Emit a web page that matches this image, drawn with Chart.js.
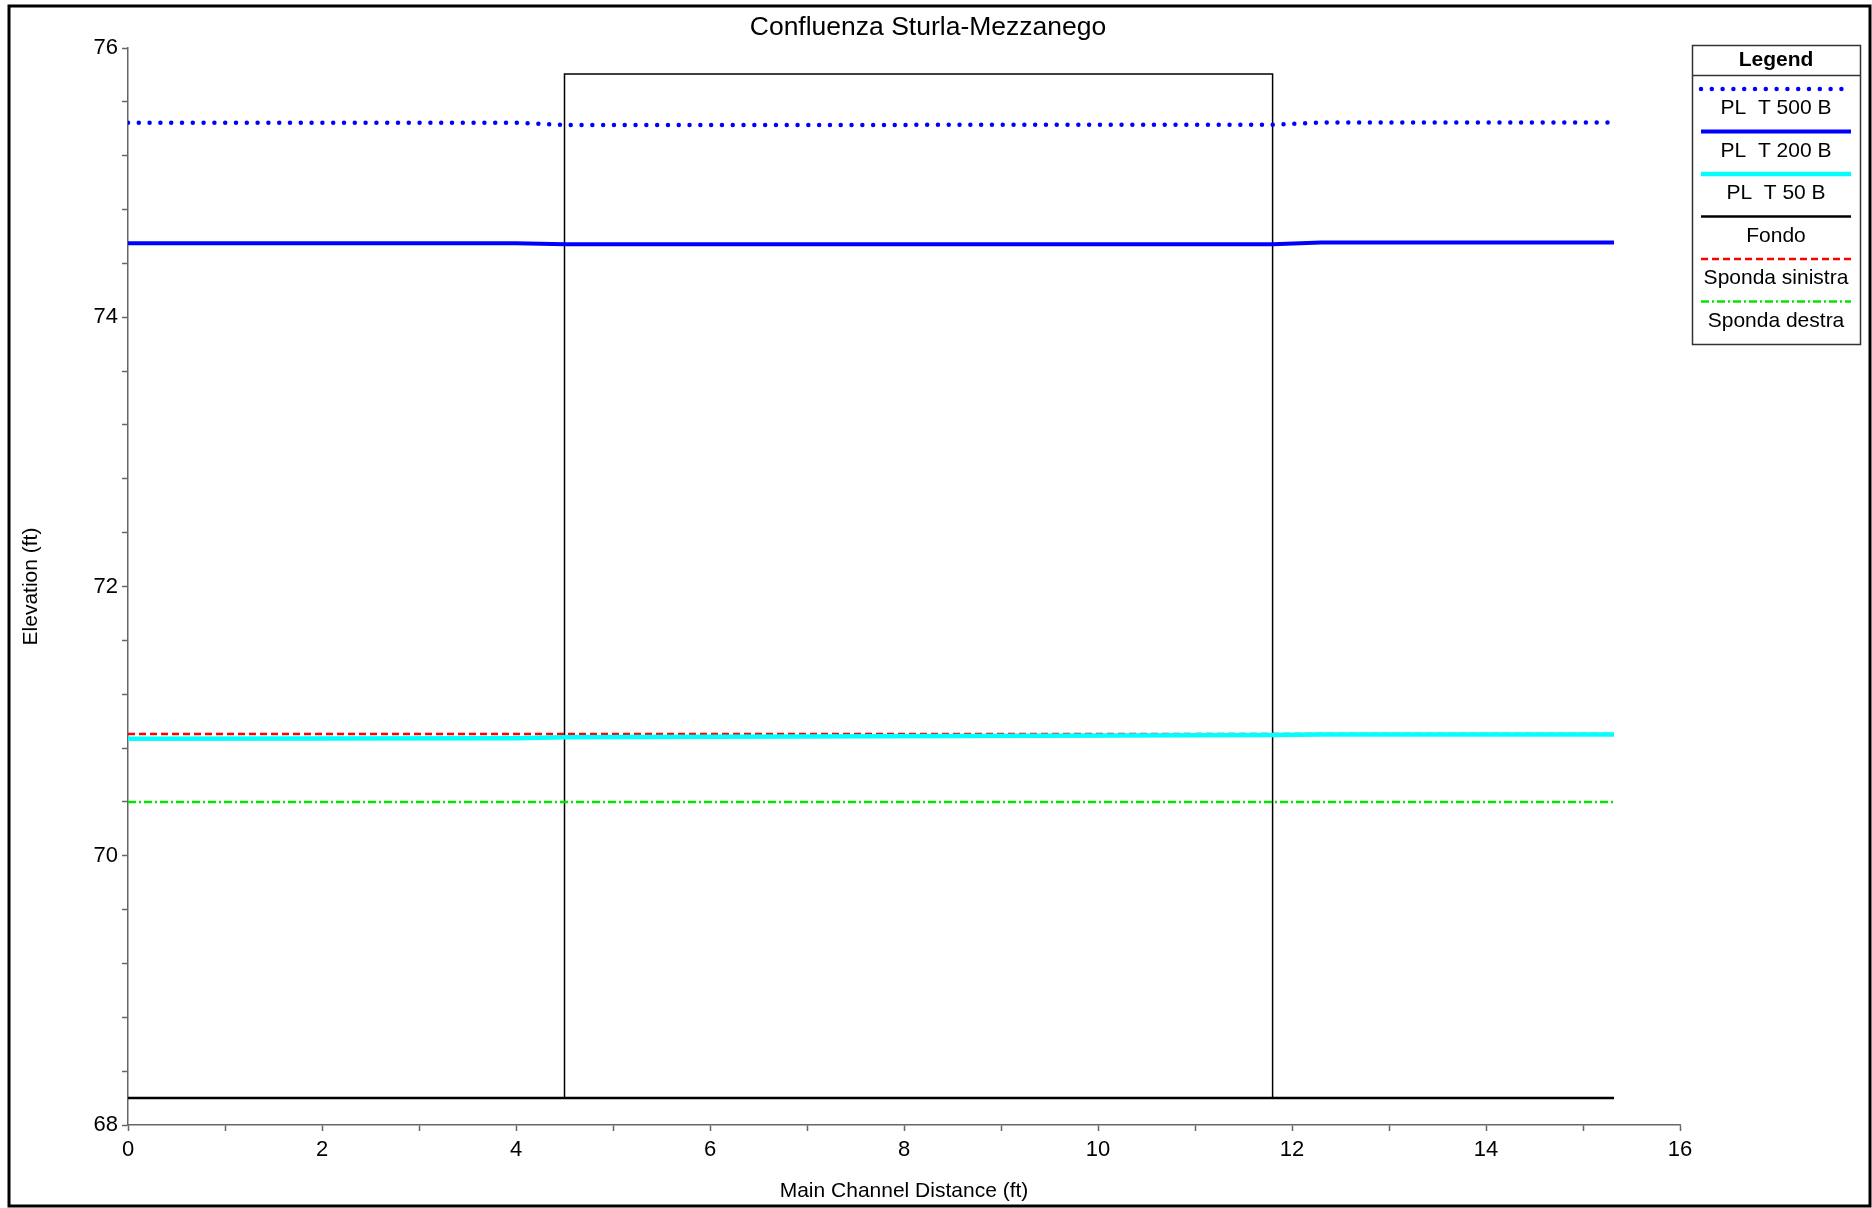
<!DOCTYPE html>
<html>
<head>
<meta charset="utf-8">
<title>Confluenza Sturla-Mezzanego</title>
<script src="https://cdn.jsdelivr.net/npm/chart.js@4.4.1/dist/chart.umd.min.js"></script>
<style>
html, body { margin: 0; padding: 0; background: #fff; }
#wrap { width: 1872px; height: 1208px; position: relative; }
</style>
</head>
<body>
<div id="wrap"><canvas id="chjs_chart0"></canvas></div>
<script>
// main channel stations (ft)
const stations = [0, 4.0, 4.5, 11.8, 12.3, 15.32];

// water surface profiles (ft)
const pl500 = [75.445, 75.445, 75.428, 75.43, 75.447, 75.447];
const pl200 = [74.55, 74.55, 74.543, 74.543, 74.556, 74.556];
const pl50 = [70.87, 70.872, 70.88, 70.897, 70.9, 70.9];
const fondo = [68.2, 68.2, 68.2, 68.2, 68.2, 68.2];
const spondaSin = [70.905, 70.905, 70.905, 70.905, 70.905, 70.905];
const spondaDes = [70.4, 70.4, 70.4, 70.4, 70.4, 70.4];

// bridge / structure outline
const boxX = [4.5, 4.5, 11.8, 11.8];
const boxY = [68.2, 75.806, 75.806, 68.2];

const seriesLabels = ["PL  T 500 B", "PL  T 200 B", "PL  T 50 B", "Fondo", "Sponda sinistra", "Sponda destra"];
const chartTitle = "Confluenza Sturla-Mezzanego";
const xTicks = [0, 2, 4, 6, 8, 10, 12, 14, 16];
const yTicks = [68, 70, 72, 74, 76];

const FONT = '"Liberation Sans", Arial, Helvetica, sans-serif';
Chart.defaults.font.family = FONT;
Chart.defaults.color = '#000';

function pts(xs, ys){
    return xs.map((x, i) => ({x: x, y: ys[i]}));
}

function isMajor(v, list){
    return list.some(t => Math.abs(t - v) < 1e-6);
}

// frame, title (centred on whole page) and the side legend
const sideLegend = {
    id: 'sideLegend',
    afterDraw(chart){
        const ctx = chart.ctx;
        ctx.save();
        // outer frame
        ctx.strokeStyle = '#000';
        ctx.lineWidth = 3;
        ctx.strokeRect(9, 6, 1861, 1200);

        ctx.fillStyle = '#000';
        ctx.textAlign = 'center';
        ctx.textBaseline = 'middle';
        ctx.font = '26.5px ' + FONT;
        ctx.fillText(chartTitle, 928, 28);

        // legend box
        const lx = 1692, ly = 45, lw = 168, lh = 299;
        ctx.lineWidth = 1.5;
        ctx.strokeStyle = '#333';
        ctx.strokeRect(lx + 0.5, ly + 0.5, lw, lh);
        ctx.beginPath();
        ctx.moveTo(lx, 75.5);
        ctx.lineTo(lx + lw, 75.5);
        ctx.stroke();

        ctx.font = 'bold 21px ' + FONT;
        ctx.fillText('Legend', lx + lw / 2, 60);

        ctx.font = '21px ' + FONT;
        let n = 0;
        chart.data.datasets.forEach(ds => {
            if (!ds.label) return;
            const yLine = 89 + n * 42.5;
            ctx.beginPath();
            ctx.strokeStyle = ds.borderColor;
            ctx.lineWidth = ds.borderWidth;
            ctx.lineCap = ds.borderCapStyle || 'butt';
            ctx.setLineDash(ds.borderDash || []);
            ctx.moveTo(1701, yLine);
            ctx.lineTo(1851, yLine);
            ctx.stroke();
            ctx.setLineDash([]);
            ctx.fillText(ds.label, lx + lw / 2, yLine + 19.5);
            n++;
        });
        ctx.restore();
    }
};

new Chart(document.getElementById('chjs_chart0'), {
    type: 'line',
    data: {
        datasets: [
            {
                label: seriesLabels[0],
                data: pts(stations, pl500),
                borderColor: 'rgb(0, 0, 255)',
                borderWidth: 4.5,
                borderDash: [0, 10.8],
                borderCapStyle: 'round',
                fill: false, tension: 0, pointRadius: 0
            },
            {
                label: seriesLabels[1],
                data: pts(stations, pl200),
                borderColor: 'rgb(0, 0, 255)',
                borderWidth: 4,
                fill: false, tension: 0, pointRadius: 0
            },
            {
                label: seriesLabels[2],
                data: pts(stations, pl50),
                borderColor: 'rgb(0, 255, 255)',
                borderWidth: 4.5,
                fill: false, tension: 0, pointRadius: 0
            },
            {
                label: seriesLabels[3],
                data: pts(stations, fondo),
                borderColor: 'rgb(0, 0, 0)',
                borderWidth: 2.5,
                fill: false, tension: 0, pointRadius: 0
            },
            {
                label: seriesLabels[4],
                data: pts(stations, spondaSin),
                borderColor: 'rgb(255, 0, 0)',
                borderWidth: 2.5,
                borderDash: [7, 4],
                fill: false, tension: 0, pointRadius: 0
            },
            {
                label: seriesLabels[5],
                data: pts(stations, spondaDes),
                borderColor: 'rgb(0, 230, 0)',
                borderWidth: 2.5,
                borderDash: [8, 3, 2, 3],
                fill: false, tension: 0, pointRadius: 0
            },
            {
                label: '', // structure outline, not in legend
                data: pts(boxX, boxY),
                borderColor: 'rgb(0, 0, 0)',
                borderWidth: 1.5,
                fill: false, tension: 0, pointRadius: 0
            }
        ]
    },
    options: {
        responsive: true,
        maintainAspectRatio: false,
        animation: false,
        layout: { padding: { left: 12, right: 192, top: 48, bottom: 4 } },
        plugins: {
            legend: { display: false },
            tooltip: { enabled: false },
            title: { display: false }
        },
        scales: {
            x: {
                type: 'linear',
                min: 0, max: 16,
                afterFit(scale){ scale.height = 79; },
                border: { display: true, color: '#666', width: 1.5 },
                grid: { drawOnChartArea: false, drawTicks: true, tickLength: 6, tickColor: '#666', tickWidth: 1.5 },
                ticks: {
                    stepSize: 1, autoSkip: false, maxRotation: 0, padding: 6,
                    font: { size: 22 }, color: '#000',
                    callback: v => isMajor(v, xTicks) ? String(Math.round(v)) : ''
                },
                title: {
                    display: true,
                    text: 'Main Channel Distance (ft)',
                    font: { size: 21 }, color: '#000',
                    padding: { top: 0, bottom: 0 }
                }
            },
            y: {
                type: 'linear',
                min: 68, max: 76,
                afterFit(scale){ scale.width = 116; },
                border: { display: true, color: '#666', width: 1.5 },
                grid: { drawOnChartArea: false, drawTicks: true, tickLength: 6, tickColor: '#666', tickWidth: 1.5 },
                ticks: {
                    stepSize: 0.4, autoSkip: false, padding: 4,
                    font: { size: 22 }, color: '#000',
                    callback: v => isMajor(v, yTicks) ? String(Math.round(v)) : ''
                },
                title: {
                    display: true,
                    text: 'Elevation (ft)',
                    font: { size: 21 }, color: '#000',
                    padding: { top: 7, bottom: 0 }
                }
            }
        }
    },
    plugins: [sideLegend]
});
</script>
</body>
</html>
